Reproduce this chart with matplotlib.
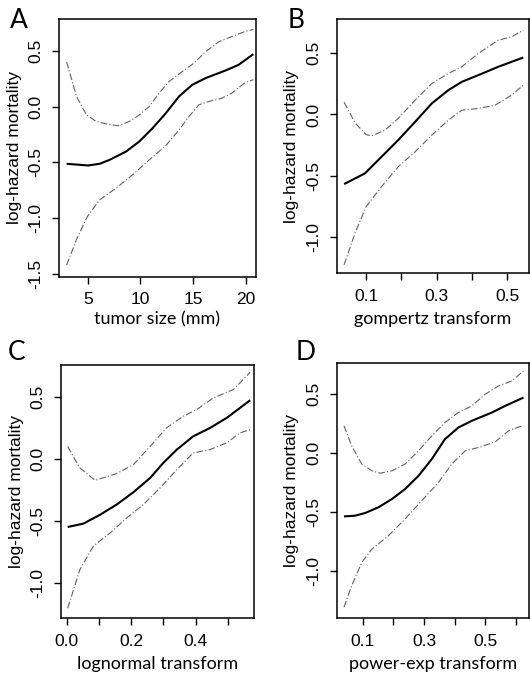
import numpy as np
import matplotlib
matplotlib.use("Agg")
import matplotlib.pyplot as plt

# ---- panel A: tumor size (mm) ----
a_fit_x = [3.0, 5.04, 6.13, 7.07, 8.64, 9.89, 11.15, 12.4, 13.65, 14.9, 16.16, 18.04, 19.29, 20.7]
a_fit_y = [-0.513, -0.528, -0.513, -0.478, -0.403, -0.313, -0.194, -0.06, 0.09, 0.194, 0.254, 0.322, 0.373, 0.469]
a_up_x = [3.0, 3.94, 4.88, 5.82, 6.76, 7.86, 8.95, 9.89, 10.83, 11.77, 12.71, 13.96, 15.06, 16.16, 17.41, 18.66, 19.92, 20.7]
a_up_y = [0.40, 0.09, -0.075, -0.134, -0.155, -0.173, -0.134, -0.075, 0.0, 0.12, 0.224, 0.313, 0.388, 0.49, 0.58, 0.627, 0.672, 0.69]
a_lo_x = [3.0, 3.94, 4.97, 6.13, 7.7, 9.27, 10.83, 12.4, 13.65, 14.59, 15.53, 16.47, 17.72, 18.66, 19.92, 20.7]
a_lo_y = [-1.42, -1.19, -0.985, -0.836, -0.73, -0.61, -0.478, -0.35, -0.21, -0.09, 0.015, 0.045, 0.075, 0.12, 0.215, 0.24]

# ---- panel B: gompertz transform ----
b_fit_x = [0.038, 0.097, 0.144, 0.191, 0.239, 0.286, 0.333, 0.371, 0.418, 0.474, 0.545]
b_fit_y = [-0.57, -0.482, -0.346, -0.21, -0.06, 0.09, 0.199, 0.267, 0.322, 0.39, 0.466]
b_up_x = [0.038, 0.069, 0.100, 0.116, 0.154, 0.191, 0.239, 0.286, 0.333, 0.371, 0.418, 0.474, 0.512, 0.545]
b_up_y = [0.10, -0.07, -0.165, -0.175, -0.128, -0.033, 0.117, 0.253, 0.335, 0.39, 0.50, 0.608, 0.635, 0.69]
b_lo_x = [0.038, 0.069, 0.100, 0.144, 0.191, 0.239, 0.286, 0.333, 0.371, 0.418, 0.465, 0.512, 0.545]
b_lo_y = [-1.23, -0.97, -0.755, -0.59, -0.428, -0.305, -0.169, -0.046, 0.035, 0.049, 0.076, 0.158, 0.24]

# ---- panel C: lognormal transform ----
c_fit_x = [0.003, 0.052, 0.104, 0.155, 0.207, 0.259, 0.300, 0.342, 0.393, 0.445, 0.497, 0.57]
c_fit_y = [-0.547, -0.52, -0.448, -0.367, -0.268, -0.153, -0.032, 0.075, 0.182, 0.249, 0.33, 0.472]
c_up_x = [0.003, 0.040, 0.088, 0.155, 0.207, 0.259, 0.310, 0.362, 0.404, 0.455, 0.518, 0.57]
c_up_y = [0.10, -0.07, -0.172, -0.118, -0.046, 0.10, 0.25, 0.343, 0.397, 0.49, 0.558, 0.697]
c_lo_x = [0.003, 0.041, 0.083, 0.135, 0.186, 0.238, 0.290, 0.342, 0.393, 0.445, 0.497, 0.538, 0.57]
c_lo_y = [-1.2, -0.89, -0.70, -0.595, -0.475, -0.367, -0.233, -0.086, 0.048, 0.075, 0.129, 0.209, 0.236]

# ---- panel D: power-exp transform ----
d_fit_x = [0.039, 0.075, 0.108, 0.151, 0.195, 0.238, 0.282, 0.325, 0.368, 0.412, 0.455, 0.521, 0.564, 0.624]
d_fit_y = [-0.537, -0.531, -0.508, -0.46, -0.39, -0.305, -0.192, -0.051, 0.119, 0.218, 0.274, 0.345, 0.401, 0.472]
d_up_x = [0.039, 0.064, 0.097, 0.130, 0.157, 0.195, 0.238, 0.282, 0.325, 0.368, 0.412, 0.455, 0.499, 0.542, 0.586, 0.624]
d_up_y = [0.232, 0.062, -0.093, -0.15, -0.17, -0.15, -0.093, 0.02, 0.147, 0.26, 0.345, 0.40, 0.50, 0.57, 0.613, 0.698]
d_lo_x = [0.039, 0.064, 0.097, 0.130, 0.184, 0.238, 0.292, 0.347, 0.390, 0.434, 0.477, 0.532, 0.575, 0.624]
d_lo_y = [-1.308, -1.124, -0.927, -0.814, -0.70, -0.559, -0.404, -0.249, -0.093, 0.02, 0.048, 0.096, 0.189, 0.237]

ylabel = "log-hazard mortality"

#___________panel setup (position in pixels, limits, ticks)______________
W, H = 530, 673
panels = [
    # letter, box(left, top, right, bottom) px, xlim, ylim, xticks, xticklabels, yticks, xlabel, labelpad, data
    ("A", (59, 19, 256, 277), (2.28, 20.95), (-1.527, 0.784),
     [5, 10, 15, 20], ["5", "10", "15", "20"], [-1.5, -1.0, -0.5, 0.0, 0.5],
     "tumor size (mm)", 3, (a_fit_x, a_fit_y, a_up_x, a_up_y, a_lo_x, a_lo_y)),
    ("B", (336.7, 19, 529, 273.3), (0.017, 0.561), (-1.30, 0.781),
     [0.1, 0.2, 0.3, 0.4, 0.5], ["0.1", "", "0.3", "", "0.5"], [-1.0, -0.5, 0.0, 0.5],
     "gompertz transform", 5, (b_fit_x, b_fit_y, b_up_x, b_up_y, b_lo_x, b_lo_y)),
    ("C", (61, 365, 254.3, 618.3), (-0.0177, 0.5826), (-1.281, 0.755),
     [0.0, 0.1, 0.2, 0.3, 0.4, 0.5], ["0.0", "", "0.2", "", "0.4", ""], [-1.0, -0.5, 0.0, 0.5],
     "lognormal transform", 5, (c_fit_x, c_fit_y, c_up_x, c_up_y, c_lo_x, c_lo_y)),
    ("D", (336.7, 362.7, 529, 618.3), (0.0152, 0.642), (-1.402, 0.768),
     [0.1, 0.2, 0.3, 0.4, 0.5, 0.6], ["0.1", "", "0.3", "", "0.5", ""], [-1.0, -0.5, 0.0, 0.5],
     "power-exp transform", 5, (d_fit_x, d_fit_y, d_up_x, d_up_y, d_lo_x, d_lo_y)),
]
letter_pos = {"A": (10, 21), "B": (288, 21), "C": (8, 352), "D": (296, 352)}

fig = plt.figure(figsize=(W / 100, H / 100), dpi=100)
tickfont = {"family": ["Liberation Sans", "DejaVu Sans"], "size": 12.5}

for letter, box, xlim, ylim, xt, xtl, yt, xlab, lpad, data in panels:
    l, t, r, b = box
    ax = fig.add_axes([l / W, 1 - b / H, (r - l) / W, (b - t) / H])
    fx, fy, ux, uy, lx, ly = data
    ax.plot(fx, fy, color="black", lw=1.5, solid_capstyle="butt")
    ax.plot(ux, uy, color="#606060", lw=0.8, linestyle=(0, (6, 2, 1, 2)))
    ax.plot(lx, ly, color="#606060", lw=0.8, linestyle=(0, (6, 2, 1, 2)))
    ax.set_xlim(*xlim)
    ax.set_ylim(*ylim)
    ax.set_xticks(xt)
    ax.set_xticklabels(xtl, fontdict=tickfont)
    ax.set_yticks(yt)
    ax.set_yticklabels(["%.1f" % v for v in yt], fontdict=tickfont, rotation=90, va="center")
    ax.tick_params(direction="out", length=5, width=1, pad=6)
    for s in ax.spines.values():
        s.set_linewidth(1.1)
    ax.set_xlabel(xlab, family=["Lato", "DejaVu Sans"], fontsize=13, labelpad=lpad)
    ax.set_ylabel(ylabel, family=["Liberation Sans", "DejaVu Sans"], fontsize=12.5, labelpad=5)
    lx_, ly_ = letter_pos[letter]
    fig.text(lx_ / W, 1 - ly_ / H, letter, family=["Lato", "DejaVu Sans"], fontsize=19,
             va="center", ha="left")

fig.savefig("out.png", dpi=100)
